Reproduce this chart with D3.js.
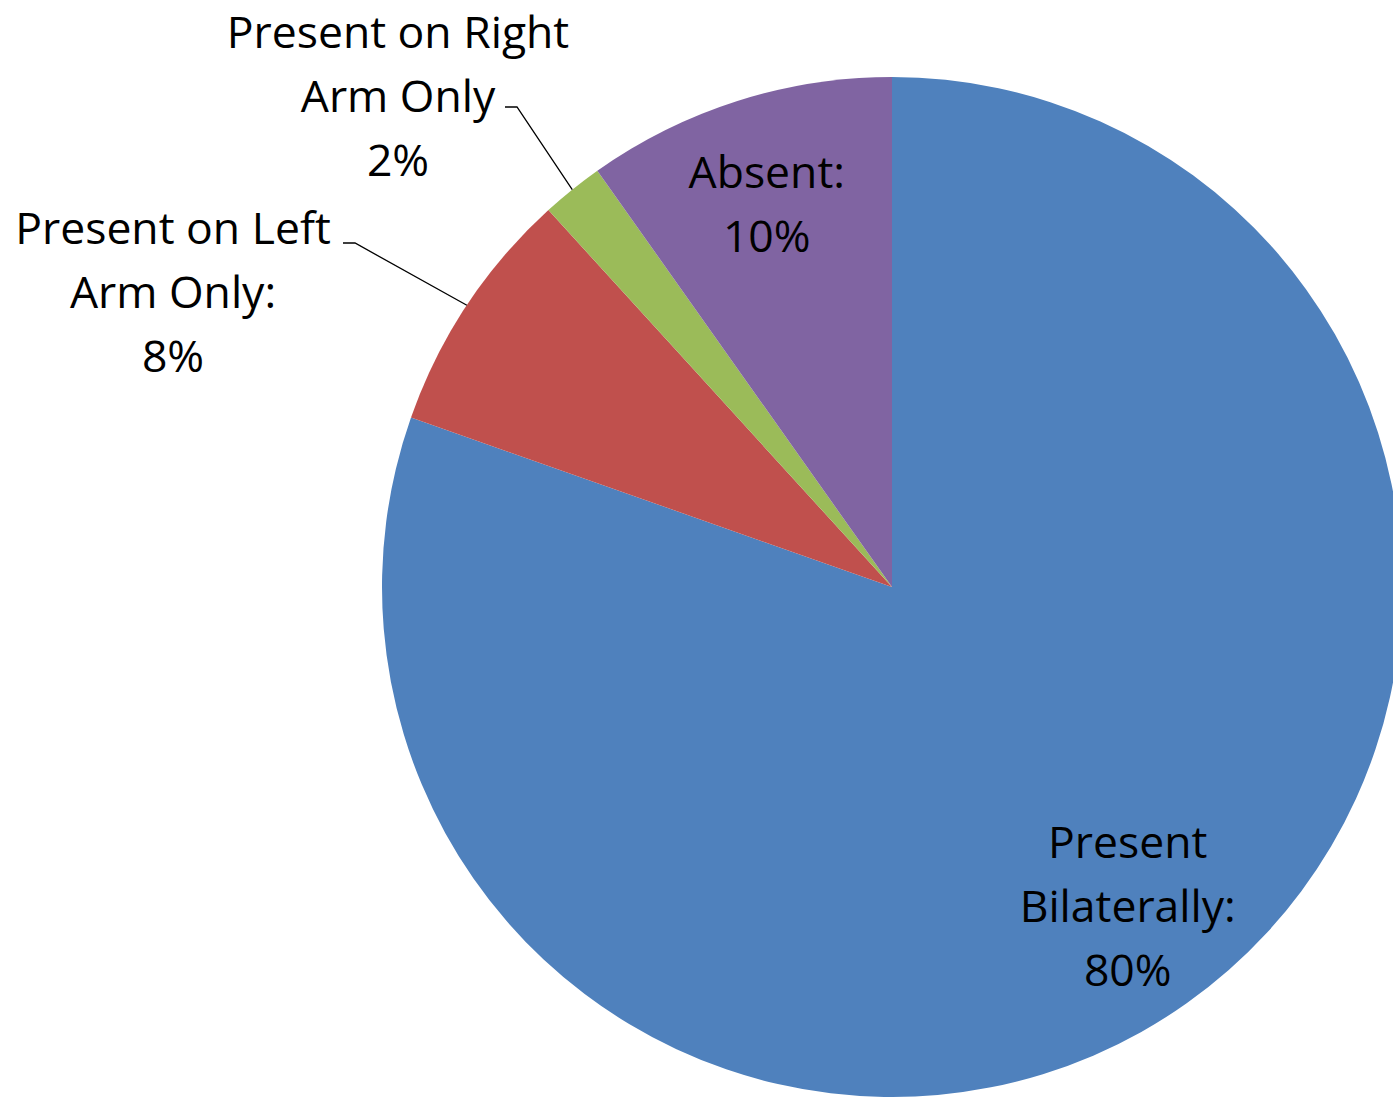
<!DOCTYPE html>
<html>
<head>
<meta charset="utf-8">
<script src="https://cdn.jsdelivr.net/npm/d3@7"></script>
<style>
  html, body { margin: 0; padding: 0; background: #ffffff; overflow: hidden; }
  svg { display: block; }
  text { font-family: "Open Sans", Lato, sans-serif; fill: #000; }
</style>
</head>
<body>
<svg id="chart" width="1393" height="1097"></svg>
<script>
// ---- data ----
const categories = ["Present Bilaterally", "Present on Left Arm Only", "Present on Right Arm Only", "Absent"];
const counts = [41, 4, 1, 5];
const labelLines = [
  ["Present", "Bilaterally:", "80%"],
  ["Present on Left", "Arm Only:", "8%"],
  ["Present on Right", "Arm Only", "2%"],
  ["Absent:", "10%"]
];
const colors = ["#4F81BD", "#C0504D", "#9BBB59", "#8064A2"];

// ---- layout ----
const W = 1393, H = 1097;
const cx = 892, cy = 587, R = 510;
const fontSize = 44.5, lineH = 64;

const svg = d3.select("#chart");
const g = svg.append("g").attr("transform", `translate(${cx},${cy})`);

const pie = d3.pie().sort(null).value(d => d)(counts);
const arc = d3.arc().innerRadius(0).outerRadius(R);

g.selectAll("path.slice")
  .data(pie)
  .join("path")
  .attr("class", "slice")
  .attr("d", arc)
  .attr("fill", (d, i) => colors[i]);

// label placement: inside labels on a ring, outside labels with leader lines
const place = [
  { mode: "in", rf: 0.80, dx: 0, dy: -13 },
  { mode: "out", label: [-719, -294], elbow: [-537, -344], hook: [-549, -344] },
  { mode: "out", label: [-494, -490], elbow: [-375, -480], hook: [-387, -480] },
  { mode: "in", rf: 0.765, dx: -7, dy: -10 }
];

function midAngle(d) { return (d.startAngle + d.endAngle) / 2; }

pie.forEach((d, i) => {
  const p = place[i];
  const lines = labelLines[i];
  let x, y;
  if (p.mode === "in") {
    const a = midAngle(d);
    x = Math.sin(a) * R * p.rf + p.dx;
    y = -Math.cos(a) * R * p.rf + p.dy;
  } else {
    const a = midAngle(d);
    const ex = Math.sin(a) * R, ey = -Math.cos(a) * R;
    g.append("polyline")
      .attr("points", [[ex, ey], p.elbow, p.hook].map(q => q.join(",")).join(" "))
      .attr("fill", "none")
      .attr("stroke", "#000")
      .attr("stroke-width", 1.3);
    x = p.label[0];
    y = p.label[1];
  }
  const n = lines.length;
  const t = g.append("text")
    .attr("text-anchor", "middle")
    .attr("font-size", fontSize);
  lines.forEach((s, k) => {
    t.append("tspan")
      .attr("x", x)
      .attr("y", y + (k - (n - 1) / 2) * lineH + 15)
      .text(s);
  });
});
</script>
</body>
</html>
